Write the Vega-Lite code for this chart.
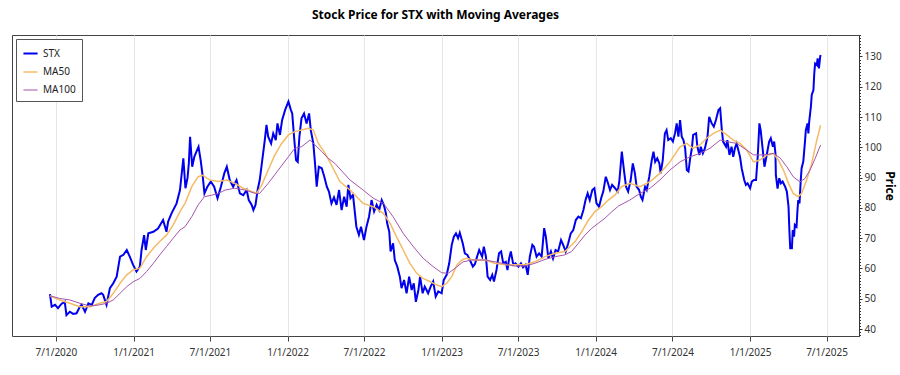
{
"$schema": "https://vega.github.io/schema/vega-lite/v6.json",
"width": 847, "height": 301,
"autosize": {"type": "none"},
"padding": {"left": 12, "top": 35, "right": 41, "bottom": 39},
"background": "white",
"title": {"text": "Stock Price for STX with Moving Averages", "anchor": "middle", "fontSize": 12, "fontWeight": "bold", "font": "Noto Sans", "color": "black", "offset": 13},
"config": {"view": {"stroke": "#444", "strokeWidth": 1}, "font": "Noto Sans"},
"data": {"values": [
{"d":"2020-06-17","s":"STX","p":51.5},{"d":"2020-06-21","s":"STX","p":47.4},{"d":"2020-06-29","s":"STX","p":48},{"d":"2020-07-06","s":"STX","p":46.9},{"d":"2020-07-14","s":"STX","p":48.3},{"d":"2020-07-22","s":"STX","p":49},{"d":"2020-07-26","s":"STX","p":44.6},{"d":"2020-08-03","s":"STX","p":45.7},{"d":"2020-08-11","s":"STX","p":45},{"d":"2020-08-19","s":"STX","p":45.2},{"d":"2020-08-27","s":"STX","p":47.4},{"d":"2020-08-31","s":"STX","p":48},{"d":"2020-09-08","s":"STX","p":45.7},{"d":"2020-09-16","s":"STX","p":48.5},{"d":"2020-09-24","s":"STX","p":48},{"d":"2020-10-01","s":"STX","p":50.2},{"d":"2020-10-09","s":"STX","p":51.3},{"d":"2020-10-17","s":"STX","p":51.8},{"d":"2020-10-21","s":"STX","p":51.3},{"d":"2020-10-29","s":"STX","p":48},{"d":"2020-11-06","s":"STX","p":53.5},{"d":"2020-11-14","s":"STX","p":55.1},{"d":"2020-11-22","s":"STX","p":57.3},{"d":"2020-11-30","s":"STX","p":63.9},{"d":"2020-12-08","s":"STX","p":64.5},{"d":"2020-12-16","s":"STX","p":66.1},{"d":"2020-12-23","s":"STX","p":63.9},{"d":"2020-12-31","s":"STX","p":61.2},
{"d":"2021-01-08","s":"STX","p":59},{"d":"2021-01-16","s":"STX","p":60.6},{"d":"2021-01-20","s":"STX","p":66.1},{"d":"2021-01-26","s":"STX","p":71},{"d":"2021-01-30","s":"STX","p":66.1},{"d":"2021-02-05","s":"STX","p":71.6},{"d":"2021-02-17","s":"STX","p":72.1},{"d":"2021-02-28","s":"STX","p":73.2},{"d":"2021-03-12","s":"STX","p":76},{"d":"2021-03-20","s":"STX","p":72.1},{"d":"2021-03-24","s":"STX","p":75.5},{"d":"2021-04-01","s":"STX","p":78.2},{"d":"2021-04-13","s":"STX","p":81.5},{"d":"2021-04-21","s":"STX","p":85.9},{"d":"2021-04-29","s":"STX","p":96.4},{"d":"2021-05-04","s":"STX","p":86.5},{"d":"2021-05-09","s":"STX","p":90},{"d":"2021-05-12","s":"STX","p":94.7},{"d":"2021-05-15","s":"STX","p":103.5},{"d":"2021-05-20","s":"STX","p":93.6},{"d":"2021-05-25","s":"STX","p":96.9},{"d":"2021-05-30","s":"STX","p":98.6},{"d":"2021-06-04","s":"STX","p":100.2},{"d":"2021-06-09","s":"STX","p":95.8},{"d":"2021-06-14","s":"STX","p":90.3},{"d":"2021-06-18","s":"STX","p":84.8},{"d":"2021-06-25","s":"STX","p":87},{"d":"2021-07-03","s":"STX","p":88.7},{"d":"2021-07-11","s":"STX","p":87},{"d":"2021-07-19","s":"STX","p":83.2},{"d":"2021-07-27","s":"STX","p":87},{"d":"2021-08-04","s":"STX","p":91.4},{"d":"2021-08-10","s":"STX","p":93.6},{"d":"2021-08-17","s":"STX","p":89.2},{"d":"2021-08-25","s":"STX","p":87},{"d":"2021-09-02","s":"STX","p":89.2},{"d":"2021-09-10","s":"STX","p":84.8},{"d":"2021-09-18","s":"STX","p":84.2},{"d":"2021-09-26","s":"STX","p":85.9},{"d":"2021-10-01","s":"STX","p":82.6},{"d":"2021-10-08","s":"STX","p":81},{"d":"2021-10-12","s":"STX","p":79.3},{"d":"2021-10-17","s":"STX","p":81},{"d":"2021-10-22","s":"STX","p":85.9},{"d":"2021-10-27","s":"STX","p":89.2},{"d":"2021-11-02","s":"STX","p":95.8},{"d":"2021-11-08","s":"STX","p":102.4},{"d":"2021-11-12","s":"STX","p":107.4},{"d":"2021-11-16","s":"STX","p":103.5},{"d":"2021-11-23","s":"STX","p":101.3},{"d":"2021-11-28","s":"STX","p":104.6},{"d":"2021-12-04","s":"STX","p":102.4},{"d":"2021-12-08","s":"STX","p":107.9},{"d":"2021-12-14","s":"STX","p":104.1},{"d":"2021-12-19","s":"STX","p":109},{"d":"2021-12-26","s":"STX","p":112.3},
{"d":"2022-01-03","s":"STX","p":115.1},{"d":"2022-01-09","s":"STX","p":112.3},{"d":"2022-01-12","s":"STX","p":111.2},{"d":"2022-01-17","s":"STX","p":102.4},{"d":"2022-01-21","s":"STX","p":95.8},{"d":"2022-01-25","s":"STX","p":95.2},{"d":"2022-01-29","s":"STX","p":103.5},{"d":"2022-02-03","s":"STX","p":109.6},{"d":"2022-02-09","s":"STX","p":111.2},{"d":"2022-02-15","s":"STX","p":107.9},{"d":"2022-02-21","s":"STX","p":111.2},{"d":"2022-02-25","s":"STX","p":105.7},{"d":"2022-03-03","s":"STX","p":101.3},{"d":"2022-03-07","s":"STX","p":94.7},{"d":"2022-03-11","s":"STX","p":87},{"d":"2022-03-16","s":"STX","p":93.6},{"d":"2022-03-23","s":"STX","p":93.1},{"d":"2022-03-29","s":"STX","p":90.3},{"d":"2022-04-04","s":"STX","p":87},{"d":"2022-04-09","s":"STX","p":85.4},{"d":"2022-04-15","s":"STX","p":81.5},{"d":"2022-04-21","s":"STX","p":83.5},{"d":"2022-04-27","s":"STX","p":81},{"d":"2022-05-03","s":"STX","p":85.9},{"d":"2022-05-09","s":"STX","p":79.3},{"d":"2022-05-15","s":"STX","p":83.7},{"d":"2022-05-21","s":"STX","p":80.4},{"d":"2022-05-25","s":"STX","p":87.6},{"d":"2022-05-30","s":"STX","p":83.2},{"d":"2022-06-05","s":"STX","p":84.3},{"d":"2022-06-13","s":"STX","p":73.8},{"d":"2022-06-19","s":"STX","p":71.1},{"d":"2022-06-24","s":"STX","p":73.8},{"d":"2022-07-01","s":"STX","p":69.4},{"d":"2022-07-07","s":"STX","p":73.8},{"d":"2022-07-13","s":"STX","p":77.1},{"d":"2022-07-19","s":"STX","p":82.6},{"d":"2022-07-25","s":"STX","p":78.8},{"d":"2022-07-31","s":"STX","p":81},{"d":"2022-08-06","s":"STX","p":79.3},{"d":"2022-08-12","s":"STX","p":82.6},{"d":"2022-08-17","s":"STX","p":81},{"d":"2022-08-22","s":"STX","p":78.2},{"d":"2022-08-25","s":"STX","p":74.9},{"d":"2022-08-30","s":"STX","p":72.1},{"d":"2022-09-02","s":"STX","p":65.6},{"d":"2022-09-08","s":"STX","p":68.3},{"d":"2022-09-12","s":"STX","p":62.8},{"d":"2022-09-18","s":"STX","p":60.6},{"d":"2022-09-24","s":"STX","p":57.3},{"d":"2022-09-28","s":"STX","p":53.5},{"d":"2022-10-04","s":"STX","p":56.2},{"d":"2022-10-10","s":"STX","p":51.8},{"d":"2022-10-16","s":"STX","p":57.3},{"d":"2022-10-22","s":"STX","p":52.9},{"d":"2022-10-27","s":"STX","p":55.1},{"d":"2022-11-01","s":"STX","p":49},{"d":"2022-11-07","s":"STX","p":52.9},{"d":"2022-11-11","s":"STX","p":57.3},{"d":"2022-11-17","s":"STX","p":51.8},{"d":"2022-11-22","s":"STX","p":54},{"d":"2022-11-30","s":"STX","p":51.8},{"d":"2022-12-06","s":"STX","p":54},{"d":"2022-12-12","s":"STX","p":55.7},{"d":"2022-12-18","s":"STX","p":50.7},{"d":"2022-12-24","s":"STX","p":52.4},
{"d":"2023-01-01","s":"STX","p":51.8},{"d":"2023-01-06","s":"STX","p":56.2},{"d":"2023-01-13","s":"STX","p":57.9},{"d":"2023-01-19","s":"STX","p":61.7},{"d":"2023-01-25","s":"STX","p":67.8},{"d":"2023-01-30","s":"STX","p":70.5},{"d":"2023-02-04","s":"STX","p":71.6},{"d":"2023-02-09","s":"STX","p":70},{"d":"2023-02-13","s":"STX","p":71.8},{"d":"2023-02-20","s":"STX","p":68.3},{"d":"2023-02-25","s":"STX","p":65},{"d":"2023-03-03","s":"STX","p":64.5},{"d":"2023-03-09","s":"STX","p":62.8},{"d":"2023-03-16","s":"STX","p":60.6},{"d":"2023-03-21","s":"STX","p":61.5},{"d":"2023-03-26","s":"STX","p":63.9},{"d":"2023-03-31","s":"STX","p":66.1},{"d":"2023-04-07","s":"STX","p":63.9},{"d":"2023-04-11","s":"STX","p":67.2},{"d":"2023-04-16","s":"STX","p":63.9},{"d":"2023-04-20","s":"STX","p":57.3},{"d":"2023-04-26","s":"STX","p":56.2},{"d":"2023-05-01","s":"STX","p":57.9},{"d":"2023-05-05","s":"STX","p":55.7},{"d":"2023-05-11","s":"STX","p":59.5},{"d":"2023-05-17","s":"STX","p":65},{"d":"2023-05-22","s":"STX","p":65.6},{"d":"2023-05-27","s":"STX","p":61.7},{"d":"2023-06-02","s":"STX","p":62.2},{"d":"2023-06-06","s":"STX","p":59.5},{"d":"2023-06-10","s":"STX","p":63.3},{"d":"2023-06-14","s":"STX","p":65.6},{"d":"2023-06-20","s":"STX","p":61.2},{"d":"2023-06-25","s":"STX","p":61.7},{"d":"2023-07-02","s":"STX","p":60.6},{"d":"2023-07-08","s":"STX","p":61.7},{"d":"2023-07-13","s":"STX","p":60.4},{"d":"2023-07-19","s":"STX","p":61.2},{"d":"2023-07-24","s":"STX","p":57.9},{"d":"2023-07-29","s":"STX","p":63.9},{"d":"2023-08-04","s":"STX","p":67.8},{"d":"2023-08-08","s":"STX","p":67.2},{"d":"2023-08-14","s":"STX","p":63.9},{"d":"2023-08-20","s":"STX","p":65},{"d":"2023-08-26","s":"STX","p":63.9},{"d":"2023-09-01","s":"STX","p":73.3},{"d":"2023-09-05","s":"STX","p":70.5},{"d":"2023-09-11","s":"STX","p":63.3},{"d":"2023-09-17","s":"STX","p":65.6},{"d":"2023-09-22","s":"STX","p":63.3},{"d":"2023-09-28","s":"STX","p":66.1},{"d":"2023-10-04","s":"STX","p":65.6},{"d":"2023-10-11","s":"STX","p":69.4},{"d":"2023-10-16","s":"STX","p":67.8},{"d":"2023-10-22","s":"STX","p":65.6},{"d":"2023-10-28","s":"STX","p":68.3},{"d":"2023-11-03","s":"STX","p":71.6},{"d":"2023-11-09","s":"STX","p":72.7},{"d":"2023-11-15","s":"STX","p":76},{"d":"2023-11-21","s":"STX","p":77.1},{"d":"2023-11-27","s":"STX","p":76.6},{"d":"2023-12-03","s":"STX","p":79.3},{"d":"2023-12-08","s":"STX","p":82.6},{"d":"2023-12-13","s":"STX","p":84.8},{"d":"2023-12-18","s":"STX","p":82.6},{"d":"2023-12-24","s":"STX","p":85.9},{"d":"2023-12-29","s":"STX","p":86.5},
{"d":"2024-01-03","s":"STX","p":81.5},{"d":"2024-01-09","s":"STX","p":80.4},{"d":"2024-01-15","s":"STX","p":83.7},{"d":"2024-01-19","s":"STX","p":85.4},{"d":"2024-01-25","s":"STX","p":90.3},{"d":"2024-01-29","s":"STX","p":88.7},{"d":"2024-02-04","s":"STX","p":85.9},{"d":"2024-02-09","s":"STX","p":87.6},{"d":"2024-02-16","s":"STX","p":86.5},{"d":"2024-02-22","s":"STX","p":85.4},{"d":"2024-02-26","s":"STX","p":88.7},{"d":"2024-03-03","s":"STX","p":98.6},{"d":"2024-03-08","s":"STX","p":92.5},{"d":"2024-03-13","s":"STX","p":87},{"d":"2024-03-18","s":"STX","p":85.4},{"d":"2024-03-24","s":"STX","p":89.2},{"d":"2024-03-29","s":"STX","p":94.7},{"d":"2024-04-03","s":"STX","p":91.4},{"d":"2024-04-07","s":"STX","p":87},{"d":"2024-04-13","s":"STX","p":85.9},{"d":"2024-04-17","s":"STX","p":83.7},{"d":"2024-04-21","s":"STX","p":82.6},{"d":"2024-04-27","s":"STX","p":87},{"d":"2024-05-01","s":"STX","p":85.9},{"d":"2024-05-07","s":"STX","p":90.3},{"d":"2024-05-13","s":"STX","p":95.8},{"d":"2024-05-17","s":"STX","p":98.6},{"d":"2024-05-21","s":"STX","p":95.2},{"d":"2024-05-26","s":"STX","p":96.4},{"d":"2024-05-31","s":"STX","p":94.7},{"d":"2024-06-03","s":"STX","p":91.4},{"d":"2024-06-08","s":"STX","p":95.8},{"d":"2024-06-13","s":"STX","p":104.6},{"d":"2024-06-17","s":"STX","p":105.7},{"d":"2024-06-21","s":"STX","p":102.4},{"d":"2024-06-27","s":"STX","p":103},{"d":"2024-07-02","s":"STX","p":101.9},{"d":"2024-07-07","s":"STX","p":104.6},{"d":"2024-07-11","s":"STX","p":107.9},{"d":"2024-07-15","s":"STX","p":103.5},{"d":"2024-07-19","s":"STX","p":109},{"d":"2024-07-23","s":"STX","p":103.5},{"d":"2024-07-27","s":"STX","p":102.4},{"d":"2024-07-31","s":"STX","p":99.7},{"d":"2024-08-04","s":"STX","p":92.5},{"d":"2024-08-08","s":"STX","p":92},{"d":"2024-08-12","s":"STX","p":96.4},{"d":"2024-08-16","s":"STX","p":99.7},{"d":"2024-08-19","s":"STX","p":104.1},{"d":"2024-08-26","s":"STX","p":104.6},{"d":"2024-08-29","s":"STX","p":100.2},{"d":"2024-09-03","s":"STX","p":97.5},{"d":"2024-09-06","s":"STX","p":100.2},{"d":"2024-09-11","s":"STX","p":98},{"d":"2024-09-16","s":"STX","p":99.7},{"d":"2024-09-22","s":"STX","p":103.5},{"d":"2024-09-26","s":"STX","p":110.1},{"d":"2024-10-02","s":"STX","p":107.9},{"d":"2024-10-07","s":"STX","p":106.8},{"d":"2024-10-12","s":"STX","p":109},{"d":"2024-10-18","s":"STX","p":112.3},{"d":"2024-10-22","s":"STX","p":112.9},{"d":"2024-10-26","s":"STX","p":105.7},{"d":"2024-10-29","s":"STX","p":101.9},{"d":"2024-11-05","s":"STX","p":100.2},{"d":"2024-11-08","s":"STX","p":102.4},{"d":"2024-11-13","s":"STX","p":97.5},{"d":"2024-11-18","s":"STX","p":100.2},{"d":"2024-11-22","s":"STX","p":96.9},{"d":"2024-11-26","s":"STX","p":99.7},{"d":"2024-11-30","s":"STX","p":101.3},{"d":"2024-12-04","s":"STX","p":99.1},{"d":"2024-12-08","s":"STX","p":96.9},{"d":"2024-12-12","s":"STX","p":93.1},{"d":"2024-12-18","s":"STX","p":89.2},{"d":"2024-12-22","s":"STX","p":87.6},{"d":"2024-12-26","s":"STX","p":88.1},
{"d":"2025-01-01","s":"STX","p":86.5},{"d":"2025-01-05","s":"STX","p":88.7},{"d":"2025-01-10","s":"STX","p":89.2},{"d":"2025-01-15","s":"STX","p":89.2},{"d":"2025-01-19","s":"STX","p":96.9},{"d":"2025-01-23","s":"STX","p":107.9},{"d":"2025-01-26","s":"STX","p":105.7},{"d":"2025-01-31","s":"STX","p":99.1},{"d":"2025-02-04","s":"STX","p":93.6},{"d":"2025-02-09","s":"STX","p":97.2},{"d":"2025-02-15","s":"STX","p":101.8},{"d":"2025-02-19","s":"STX","p":103},{"d":"2025-02-24","s":"STX","p":100.2},{"d":"2025-02-27","s":"STX","p":101.9},{"d":"2025-03-02","s":"STX","p":98},{"d":"2025-03-03","s":"STX","p":90.9},{"d":"2025-03-07","s":"STX","p":86.4},{"d":"2025-03-11","s":"STX","p":89.8},{"d":"2025-03-15","s":"STX","p":88.1},{"d":"2025-03-19","s":"STX","p":88.7},{"d":"2025-03-25","s":"STX","p":87},{"d":"2025-03-29","s":"STX","p":85.4},{"d":"2025-04-02","s":"STX","p":80.4},{"d":"2025-04-04","s":"STX","p":72.7},{"d":"2025-04-06","s":"STX","p":66.7},{"d":"2025-04-10","s":"STX","p":66.7},{"d":"2025-04-12","s":"STX","p":72.7},{"d":"2025-04-15","s":"STX","p":70.5},{"d":"2025-04-17","s":"STX","p":74.4},{"d":"2025-04-21","s":"STX","p":73.8},{"d":"2025-04-23","s":"STX","p":78.8},{"d":"2025-04-25","s":"STX","p":82.6},{"d":"2025-04-28","s":"STX","p":81.5},{"d":"2025-05-01","s":"STX","p":89.2},{"d":"2025-05-03","s":"STX","p":93.1},{"d":"2025-05-07","s":"STX","p":95.3},{"d":"2025-05-11","s":"STX","p":101.9},{"d":"2025-05-13","s":"STX","p":105.7},{"d":"2025-05-17","s":"STX","p":107.9},{"d":"2025-05-19","s":"STX","p":104.6},{"d":"2025-05-21","s":"STX","p":108.5},{"d":"2025-05-25","s":"STX","p":113.4},{"d":"2025-05-27","s":"STX","p":117.3},{"d":"2025-05-31","s":"STX","p":118.9},{"d":"2025-06-02","s":"STX","p":124.4},{"d":"2025-06-04","s":"STX","p":127.7},{"d":"2025-06-08","s":"STX","p":127.2},{"d":"2025-06-10","s":"STX","p":129.4},{"d":"2025-06-13","s":"STX","p":126.1},{"d":"2025-06-16","s":"STX","p":129.9},{"d":"2025-06-17","s":"STX","p":130.5},
{"d":"2020-06-17","s":"MA50","p":51},{"d":"2020-07-10","s":"MA50","p":49.6},{"d":"2020-08-03","s":"MA50","p":48.5},{"d":"2020-08-27","s":"MA50","p":47.4},{"d":"2020-09-20","s":"MA50","p":47.4},{"d":"2020-10-13","s":"MA50","p":48.5},{"d":"2020-10-29","s":"MA50","p":49.1},{"d":"2020-11-14","s":"MA50","p":51.8},{"d":"2020-11-30","s":"MA50","p":55.1},{"d":"2020-12-16","s":"MA50","p":57.9},{"d":"2020-12-31","s":"MA50","p":59.5},{"d":"2021-01-16","s":"MA50","p":60.1},{"d":"2021-02-01","s":"MA50","p":63.9},{"d":"2021-02-17","s":"MA50","p":66.7},{"d":"2021-03-04","s":"MA50","p":68.9},{"d":"2021-03-20","s":"MA50","p":71},{"d":"2021-04-05","s":"MA50","p":74.4},{"d":"2021-04-21","s":"MA50","p":78.8},{"d":"2021-05-03","s":"MA50","p":81.5},{"d":"2021-05-19","s":"MA50","p":87},{"d":"2021-06-03","s":"MA50","p":90.3},{"d":"2021-06-14","s":"MA50","p":90.8},{"d":"2021-07-01","s":"MA50","p":89.2},{"d":"2021-07-21","s":"MA50","p":88.7},{"d":"2021-08-10","s":"MA50","p":89.2},{"d":"2021-08-29","s":"MA50","p":88.1},{"d":"2021-09-18","s":"MA50","p":86.5},{"d":"2021-10-08","s":"MA50","p":85.4},{"d":"2021-10-20","s":"MA50","p":84.8},{"d":"2021-11-01","s":"MA50","p":87.6},{"d":"2021-11-16","s":"MA50","p":92.5},{"d":"2021-12-02","s":"MA50","p":97.5},{"d":"2021-12-18","s":"MA50","p":101.3},{"d":"2022-01-03","s":"MA50","p":104.1},{"d":"2022-01-18","s":"MA50","p":105.2},{"d":"2022-02-03","s":"MA50","p":105.7},{"d":"2022-02-19","s":"MA50","p":106.3},{"d":"2022-03-03","s":"MA50","p":105.7},{"d":"2022-03-15","s":"MA50","p":101.3},{"d":"2022-03-31","s":"MA50","p":98},{"d":"2022-04-15","s":"MA50","p":94.1},{"d":"2022-05-05","s":"MA50","p":88.7},{"d":"2022-05-29","s":"MA50","p":85.9},{"d":"2022-06-29","s":"MA50","p":81.5},{"d":"2022-07-23","s":"MA50","p":80.4},{"d":"2022-08-16","s":"MA50","p":78.2},{"d":"2022-09-01","s":"MA50","p":74.9},{"d":"2022-09-16","s":"MA50","p":70.5},{"d":"2022-10-02","s":"MA50","p":66.1},{"d":"2022-10-18","s":"MA50","p":61.7},{"d":"2022-11-03","s":"MA50","p":58.4},{"d":"2022-11-18","s":"MA50","p":56.7},{"d":"2022-12-04","s":"MA50","p":55.7},{"d":"2022-12-20","s":"MA50","p":54.6},{"d":"2023-01-01","s":"MA50","p":54},{"d":"2023-01-13","s":"MA50","p":55.1},{"d":"2023-01-25","s":"MA50","p":57.3},{"d":"2023-02-06","s":"MA50","p":61.1},{"d":"2023-02-18","s":"MA50","p":62.8},{"d":"2023-03-01","s":"MA50","p":63.4},{"d":"2023-03-17","s":"MA50","p":62.8},{"d":"2023-04-02","s":"MA50","p":62.8},{"d":"2023-04-14","s":"MA50","p":62.8},{"d":"2023-05-07","s":"MA50","p":61.7},{"d":"2023-05-31","s":"MA50","p":61.2},{"d":"2023-06-24","s":"MA50","p":61.2},{"d":"2023-07-18","s":"MA50","p":61.2},{"d":"2023-08-10","s":"MA50","p":62.2},{"d":"2023-09-03","s":"MA50","p":63.9},{"d":"2023-09-27","s":"MA50","p":65},{"d":"2023-10-20","s":"MA50","p":65.6},{"d":"2023-11-13","s":"MA50","p":68.8},{"d":"2023-11-29","s":"MA50","p":72.2},{"d":"2023-12-15","s":"MA50","p":76},{"d":"2023-12-30","s":"MA50","p":78.7},{"d":"2024-01-15","s":"MA50","p":80.4},{"d":"2024-01-31","s":"MA50","p":82.6},{"d":"2024-02-16","s":"MA50","p":84.3},{"d":"2024-03-02","s":"MA50","p":87},{"d":"2024-03-22","s":"MA50","p":88.1},{"d":"2024-04-15","s":"MA50","p":87},{"d":"2024-05-09","s":"MA50","p":88.7},{"d":"2024-06-01","s":"MA50","p":91.4},{"d":"2024-06-25","s":"MA50","p":95.2},{"d":"2024-07-19","s":"MA50","p":100.2},{"d":"2024-08-04","s":"MA50","p":101.3},{"d":"2024-08-19","s":"MA50","p":99.7},{"d":"2024-09-04","s":"MA50","p":100.8},{"d":"2024-09-20","s":"MA50","p":103},{"d":"2024-10-06","s":"MA50","p":104.6},{"d":"2024-10-22","s":"MA50","p":105.7},{"d":"2024-11-07","s":"MA50","p":104.1},{"d":"2024-11-22","s":"MA50","p":102.4},{"d":"2024-12-08","s":"MA50","p":101.3},{"d":"2024-12-24","s":"MA50","p":99.1},{"d":"2025-01-09","s":"MA50","p":95.2},{"d":"2025-01-24","s":"MA50","p":95.8},{"d":"2025-02-09","s":"MA50","p":97.4},{"d":"2025-02-25","s":"MA50","p":98},{"d":"2025-03-09","s":"MA50","p":95.8},{"d":"2025-03-21","s":"MA50","p":92.5},{"d":"2025-04-02","s":"MA50","p":88.1},{"d":"2025-04-13","s":"MA50","p":84.8},{"d":"2025-04-25","s":"MA50","p":83.7},{"d":"2025-05-03","s":"MA50","p":84.8},{"d":"2025-05-15","s":"MA50","p":89.2},{"d":"2025-05-27","s":"MA50","p":94.7},{"d":"2025-06-08","s":"MA50","p":102.4},{"d":"2025-06-17","s":"MA50","p":107.3},
{"d":"2020-06-17","s":"MA100","p":51},{"d":"2020-07-10","s":"MA100","p":50.1},{"d":"2020-08-03","s":"MA100","p":49.6},{"d":"2020-08-27","s":"MA100","p":48.5},{"d":"2020-09-20","s":"MA100","p":47.6},{"d":"2020-10-13","s":"MA100","p":48},{"d":"2020-10-29","s":"MA100","p":48.5},{"d":"2020-11-14","s":"MA100","p":49.6},{"d":"2020-11-30","s":"MA100","p":51.8},{"d":"2020-12-16","s":"MA100","p":54},{"d":"2020-12-31","s":"MA100","p":55.6},{"d":"2021-01-16","s":"MA100","p":56.7},{"d":"2021-02-01","s":"MA100","p":59},{"d":"2021-02-17","s":"MA100","p":61.7},{"d":"2021-03-04","s":"MA100","p":64.5},{"d":"2021-03-20","s":"MA100","p":67.2},{"d":"2021-04-05","s":"MA100","p":70},{"d":"2021-04-21","s":"MA100","p":72.7},{"d":"2021-05-03","s":"MA100","p":73.8},{"d":"2021-05-19","s":"MA100","p":77.1},{"d":"2021-06-03","s":"MA100","p":81},{"d":"2021-06-18","s":"MA100","p":83.7},{"d":"2021-07-05","s":"MA100","p":84.2},{"d":"2021-07-21","s":"MA100","p":84.8},{"d":"2021-08-06","s":"MA100","p":85.9},{"d":"2021-08-29","s":"MA100","p":86.5},{"d":"2021-09-22","s":"MA100","p":85.9},{"d":"2021-10-16","s":"MA100","p":84.8},{"d":"2021-10-27","s":"MA100","p":84.8},{"d":"2021-11-16","s":"MA100","p":88.1},{"d":"2021-12-10","s":"MA100","p":92.5},{"d":"2022-01-03","s":"MA100","p":96.9},{"d":"2022-01-18","s":"MA100","p":99.7},{"d":"2022-02-03","s":"MA100","p":100.2},{"d":"2022-02-23","s":"MA100","p":102.4},{"d":"2022-03-07","s":"MA100","p":100.8},{"d":"2022-03-23","s":"MA100","p":98.6},{"d":"2022-04-07","s":"MA100","p":96.4},{"d":"2022-04-23","s":"MA100","p":94.7},{"d":"2022-05-29","s":"MA100","p":89.2},{"d":"2022-06-29","s":"MA100","p":85.9},{"d":"2022-07-23","s":"MA100","p":83.2},{"d":"2022-08-16","s":"MA100","p":81.5},{"d":"2022-09-08","s":"MA100","p":77.1},{"d":"2022-10-02","s":"MA100","p":71.6},{"d":"2022-10-26","s":"MA100","p":67.2},{"d":"2022-11-18","s":"MA100","p":63.4},{"d":"2022-12-12","s":"MA100","p":60.6},{"d":"2023-01-01","s":"MA100","p":58.6},{"d":"2023-01-17","s":"MA100","p":58.4},{"d":"2023-02-02","s":"MA100","p":60.1},{"d":"2023-02-21","s":"MA100","p":62.2},{"d":"2023-03-13","s":"MA100","p":62.8},{"d":"2023-04-02","s":"MA100","p":62.8},{"d":"2023-04-14","s":"MA100","p":62.8},{"d":"2023-05-07","s":"MA100","p":62.2},{"d":"2023-05-31","s":"MA100","p":61.5},{"d":"2023-06-24","s":"MA100","p":60.8},{"d":"2023-07-18","s":"MA100","p":60.8},{"d":"2023-08-10","s":"MA100","p":61.7},{"d":"2023-09-03","s":"MA100","p":63},{"d":"2023-09-27","s":"MA100","p":63.9},{"d":"2023-10-20","s":"MA100","p":64.5},{"d":"2023-11-05","s":"MA100","p":65.6},{"d":"2023-11-21","s":"MA100","p":68.3},{"d":"2023-12-07","s":"MA100","p":71.1},{"d":"2023-12-23","s":"MA100","p":73.3},{"d":"2024-01-07","s":"MA100","p":74.9},{"d":"2024-01-23","s":"MA100","p":76.6},{"d":"2024-02-08","s":"MA100","p":78.7},{"d":"2024-02-24","s":"MA100","p":80.6},{"d":"2024-03-22","s":"MA100","p":82.6},{"d":"2024-04-15","s":"MA100","p":84.8},{"d":"2024-05-09","s":"MA100","p":86.5},{"d":"2024-06-01","s":"MA100","p":89.2},{"d":"2024-06-25","s":"MA100","p":92.5},{"d":"2024-07-19","s":"MA100","p":95.2},{"d":"2024-08-12","s":"MA100","p":96.9},{"d":"2024-09-04","s":"MA100","p":98},{"d":"2024-09-28","s":"MA100","p":99.7},{"d":"2024-10-22","s":"MA100","p":102.4},{"d":"2024-11-07","s":"MA100","p":101.9},{"d":"2024-11-30","s":"MA100","p":101.3},{"d":"2024-12-24","s":"MA100","p":99.1},{"d":"2025-01-09","s":"MA100","p":97.5},{"d":"2025-01-24","s":"MA100","p":97.5},{"d":"2025-02-09","s":"MA100","p":97.6},{"d":"2025-02-25","s":"MA100","p":98},{"d":"2025-03-13","s":"MA100","p":96.5},{"d":"2025-03-29","s":"MA100","p":93.6},{"d":"2025-04-13","s":"MA100","p":90.3},{"d":"2025-04-29","s":"MA100","p":88.6},{"d":"2025-05-11","s":"MA100","p":89.7},{"d":"2025-05-23","s":"MA100","p":92.5},{"d":"2025-06-04","s":"MA100","p":96.3},{"d":"2025-06-17","s":"MA100","p":100.8}
]},
"layer": [
{"mark": {"type": "line", "opacity": 0},
 "encoding": {
  "x": {"field": "d", "type": "temporal", "scale": {"type": "utc", "domain": [{"year": 2020, "month": 3, "date": 19, "utc": true}, {"year": 2025, "month": 9, "date": 16, "utc": true}]},
   "axis": {"title": null, "values": [{"year": 2020, "month": 7, "date": 1, "utc": true}, {"year": 2021, "month": 1, "date": 1, "utc": true}, {"year": 2021, "month": 7, "date": 1, "utc": true}, {"year": 2022, "month": 1, "date": 1, "utc": true}, {"year": 2022, "month": 7, "date": 1, "utc": true}, {"year": 2023, "month": 1, "date": 1, "utc": true}, {"year": 2023, "month": 7, "date": 1, "utc": true}, {"year": 2024, "month": 1, "date": 1, "utc": true}, {"year": 2024, "month": 7, "date": 1, "utc": true}, {"year": 2025, "month": 1, "date": 1, "utc": true}, {"year": 2025, "month": 7, "date": 1, "utc": true}], "labelExpr": "utcFormat(datum.value, '%-m/%-d/%Y')", "grid": true, "gridColor": "#e6e6e6", "gridWidth": 1, "domain": false, "tickColor": "#444", "tickSize": 5, "labelPadding": 6, "labelFontSize": 10, "labelColor": "#333", "labelFont": "Noto Sans"}},
  "y": {"field": "p", "type": "quantitative", "scale": {"domain": [37.7, 137.1], "nice": false, "zero": false},
   "axis": {"orient": "right", "values": [38,39,40,41,42,43,44,45,46,47,48,49,50,51,52,53,54,55,56,57,58,59,60,61,62,63,64,65,66,67,68,69,70,71,72,73,74,75,76,77,78,79,80,81,82,83,84,85,86,87,88,89,90,91,92,93,94,95,96,97,98,99,100,101,102,103,104,105,106,107,108,109,110,111,112,113,114,115,116,117,118,119,120,121,122,123,124,125,126,127,128,129,130,131,132,133,134,135,136,137], "labels": false, "domain": false, "grid": false, "tickSize": 1.5, "tickColor": "#333", "title": null}}
 }},
{"mark": {"type": "line", "interpolate": "linear"},
 "encoding": {
  "x": {"field": "d", "type": "temporal", "scale": {"type": "utc", "domain": [{"year": 2020, "month": 3, "date": 19, "utc": true}, {"year": 2025, "month": 9, "date": 16, "utc": true}]},
   "axis": {"title": null, "values": [{"year": 2020, "month": 7, "date": 1, "utc": true}, {"year": 2021, "month": 1, "date": 1, "utc": true}, {"year": 2021, "month": 7, "date": 1, "utc": true}, {"year": 2022, "month": 1, "date": 1, "utc": true}, {"year": 2022, "month": 7, "date": 1, "utc": true}, {"year": 2023, "month": 1, "date": 1, "utc": true}, {"year": 2023, "month": 7, "date": 1, "utc": true}, {"year": 2024, "month": 1, "date": 1, "utc": true}, {"year": 2024, "month": 7, "date": 1, "utc": true}, {"year": 2025, "month": 1, "date": 1, "utc": true}, {"year": 2025, "month": 7, "date": 1, "utc": true}], "labelExpr": "utcFormat(datum.value, '%-m/%-d/%Y')", "grid": true, "gridColor": "#e6e6e6", "gridWidth": 1, "domain": false, "tickColor": "#444", "tickSize": 5, "labelPadding": 6, "labelFontSize": 10, "labelColor": "#333", "labelFont": "Noto Sans"}},
  "y": {"field": "p", "type": "quantitative", "scale": {"domain": [37.7, 137.1], "nice": false, "zero": false},
   "axis": {"orient": "right", "title": "Price", "titleFontSize": 12, "titleFontWeight": "bold", "titleColor": "black", "titleFont": "Noto Sans", "titlePadding": 1, "values": [40,50,60,70,80,90,100,110,120,130], "grid": false, "domain": true, "domainColor": "#333", "tickColor": "#333", "tickSize": 3, "labelPadding": 2, "labelFontSize": 10, "labelColor": "#333", "labelFont": "Noto Sans"}},
  "color": {"field": "s", "type": "nominal", "scale": {"domain": ["STX", "MA50", "MA100"], "range": ["#0000ee", "#f4bb66", "#a455ab"]},
   "legend": {"title": null, "orient": "top-left", "offset": 4, "fillColor": "white", "strokeColor": "#555", "padding": 6, "symbolType": "stroke", "symbolSize": 200, "labelFontSize": 10, "labelColor": "#222", "labelFont": "Noto Sans", "rowPadding": 5}},
  "strokeWidth": {"field": "s", "type": "nominal", "scale": {"domain": ["STX", "MA50", "MA100"], "range": [2, 1, 1]},
   "legend": {"title": null, "orient": "top-left", "offset": 4, "fillColor": "white", "strokeColor": "#555", "padding": 6, "symbolType": "stroke", "symbolSize": 200, "labelFontSize": 10, "labelColor": "#222", "labelFont": "Noto Sans", "rowPadding": 5}}
 }}
],
"resolve": {"axis": {"y": "independent"}}
}
